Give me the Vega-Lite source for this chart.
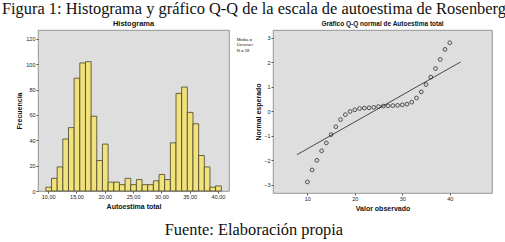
{
  "$schema": "https://vega.github.io/schema/vega-lite/v6.json",
  "padding": {"left": 1, "top": 0, "right": 0, "bottom": 0},
  "autosize": {"type": "pad"},
  "background": "white",
  "config": {
    "view": {"fill": "#dedede", "stroke": "#808080", "strokeWidth": 0.8},
    "axis": {"labelFont": "Liberation Sans", "labelFontSize": 5.5, "labelColor": "#222", "labelOverlap": false, "labelBound": false, "labelFlush": false, "titleFont": "Liberation Sans", "titleFontSize": 7, "titleFontWeight": "bold", "titleColor": "#111", "tickSize": 2, "tickColor": "#555", "domain": false, "grid": false, "labelPadding": 1, "titlePadding": 3}
  },
  "datasets": {
    "hist": [
      {"lo": 9.5, "hi": 10.5, "count": 3},
      {"lo": 10.5, "hi": 11.5, "count": 10},
      {"lo": 11.5, "hi": 12.5, "count": 19},
      {"lo": 12.5, "hi": 13.5, "count": 41},
      {"lo": 13.5, "hi": 14.5, "count": 50},
      {"lo": 14.5, "hi": 15.5, "count": 89},
      {"lo": 15.5, "hi": 16.5, "count": 101},
      {"lo": 16.5, "hi": 17.5, "count": 102},
      {"lo": 17.5, "hi": 18.5, "count": 59},
      {"lo": 18.5, "hi": 19.5, "count": 24},
      {"lo": 19.5, "hi": 20.5, "count": 37},
      {"lo": 20.5, "hi": 21.5, "count": 7},
      {"lo": 21.5, "hi": 22.5, "count": 7},
      {"lo": 22.5, "hi": 23.5, "count": 5},
      {"lo": 23.5, "hi": 24.5, "count": 10},
      {"lo": 24.5, "hi": 25.5, "count": 5},
      {"lo": 25.5, "hi": 26.5, "count": 9},
      {"lo": 26.5, "hi": 27.5, "count": 5},
      {"lo": 27.5, "hi": 28.5, "count": 5},
      {"lo": 28.5, "hi": 29.5, "count": 8},
      {"lo": 29.5, "hi": 30.5, "count": 13},
      {"lo": 30.5, "hi": 31.5, "count": 9},
      {"lo": 31.5, "hi": 32.5, "count": 38},
      {"lo": 32.5, "hi": 33.5, "count": 77},
      {"lo": 33.5, "hi": 34.5, "count": 82},
      {"lo": 34.5, "hi": 35.5, "count": 62},
      {"lo": 35.5, "hi": 36.5, "count": 53},
      {"lo": 36.5, "hi": 37.5, "count": 28},
      {"lo": 37.5, "hi": 38.5, "count": 19},
      {"lo": 38.5, "hi": 39.5, "count": 3},
      {"lo": 39.5, "hi": 40.5, "count": 4}
    ],
    "notes": [
      {"x": 43.3, "y": 118, "t": "Media ="},
      {"x": 43.3, "y": 114, "t": "Desviaci"},
      {"x": 43.3, "y": 110, "t": "N = 58"}
    ],
    "qq": [
      {"obs": 10, "exp": -2.88},
      {"obs": 11, "exp": -2.39},
      {"obs": 12, "exp": -2.0},
      {"obs": 13, "exp": -1.61},
      {"obs": 14, "exp": -1.29},
      {"obs": 15, "exp": -0.95},
      {"obs": 16, "exp": -0.63},
      {"obs": 17, "exp": -0.34},
      {"obs": 18, "exp": -0.14},
      {"obs": 19, "exp": -0.01},
      {"obs": 20, "exp": 0.06},
      {"obs": 21, "exp": 0.11},
      {"obs": 22, "exp": 0.13},
      {"obs": 23, "exp": 0.14},
      {"obs": 24, "exp": 0.16},
      {"obs": 25, "exp": 0.19},
      {"obs": 26, "exp": 0.21},
      {"obs": 27, "exp": 0.22},
      {"obs": 28, "exp": 0.23},
      {"obs": 29, "exp": 0.24},
      {"obs": 30, "exp": 0.26},
      {"obs": 31, "exp": 0.29},
      {"obs": 32, "exp": 0.37},
      {"obs": 33, "exp": 0.54},
      {"obs": 34, "exp": 0.79},
      {"obs": 35, "exp": 1.09},
      {"obs": 36, "exp": 1.39},
      {"obs": 37, "exp": 1.74},
      {"obs": 38, "exp": 2.11},
      {"obs": 39, "exp": 2.52},
      {"obs": 40, "exp": 2.79}
    ],
    "refline": [
      {"x1": 7.8, "y1": -1.77, "x2": 42.3, "y2": 2.01}
    ]
  },
  "title": {"text": "Figura 1: Histograma y gráfico Q-Q de la escala de autoestima de Rosenberg", "font": "Liberation Serif", "fontSize": 16.4, "fontWeight": "normal", "color": "#111", "anchor": "middle", "frame": "bounds", "offset": 2},
  "vconcat": [
    {
      "title": {"text": "Fuente: Elaboración propia", "orient": "bottom", "font": "Liberation Serif", "fontSize": 16.4, "fontWeight": "normal", "color": "#111", "anchor": "middle", "frame": "bounds", "offset": 10},
      "spacing": 44,
      "bounds": "flush",
      "hconcat": [
        {
          "width": 191,
          "height": 161,
          "title": {"text": "Histograma", "font": "Liberation Sans", "fontSize": 7.5, "fontWeight": "bold", "color": "#111", "offset": 3},
          "layer": [
            {
              "data": {"name": "hist"},
              "mark": {"type": "bar", "fill": "#f2e27c", "stroke": "#45422a", "strokeWidth": 0.8, "binSpacing": 0},
              "encoding": {
                "x": {"field": "lo", "type": "quantitative", "bin": {"binned": true}, "title": "Autoestima total",
                      "scale": {"domain": [8.2, 41.95], "nice": false, "zero": false},
                      "axis": {"values": [10, 15, 20, 25, 30, 35, 40], "labelOverlap": false, "labelSeparation": 0, "labelExpr": "replace(format(datum.value, '.2f'), '.', ',')"}},
                "x2": {"field": "hi"},
                "y": {"field": "count", "type": "quantitative", "title": "Frecuencia",
                      "scale": {"domain": [0, 127], "nice": false},
                      "axis": {"values": [0, 20, 40, 60, 80, 100, 120], "labelOverlap": false, "labelSeparation": 0}}
              }
            },
            {
              "data": {"name": "notes"},
              "mark": {"type": "text", "align": "left", "baseline": "alphabetic", "font": "Liberation Sans", "fontSize": 4.3, "color": "#222"},
              "encoding": {
                "x": {"field": "x", "type": "quantitative", "title": "Autoestima total", "axis": {"values": [10, 15, 20, 25, 30, 35, 40], "labelOverlap": false, "labelExpr": "replace(format(datum.value, '.2f'), '.', ',')"}},
                "y": {"field": "y", "type": "quantitative", "title": "Frecuencia", "axis": {"values": [0, 20, 40, 60, 80, 100, 120], "labelOverlap": false}},
                "text": {"field": "t"}
              }
            }
          ]
        },
        {
          "width": 219,
          "height": 163,
          "title": {"text": "Gráfico Q-Q normal de Autoestima total", "font": "Liberation Sans", "fontSize": 6.5, "fontWeight": "bold", "color": "#111", "offset": 3},
          "layer": [
            {
              "data": {"name": "refline"},
              "mark": {"type": "rule", "color": "#222", "strokeWidth": 0.8},
              "encoding": {
                "x": {"field": "x1", "type": "quantitative", "title": "Valor observado",
                      "scale": {"domain": [2.76, 48.9], "nice": false, "zero": false},
                      "axis": {"values": [10, 20, 30, 40], "labelOverlap": false}},
                "y": {"field": "y1", "type": "quantitative", "title": "Normal esperado",
                      "scale": {"domain": [-3.33, 3.31], "nice": false, "zero": false},
                      "axis": {"values": [-3, -2, -1, 0, 1, 2, 3], "labelOverlap": false, "labelSeparation": 0, "titlePadding": 2}},
                "x2": {"field": "x2"},
                "y2": {"field": "y2"}
              }
            },
            {
              "data": {"name": "qq"},
              "mark": {"type": "point", "shape": "circle", "filled": false, "stroke": "#111", "strokeWidth": 1, "size": 14},
              "encoding": {
                "x": {"field": "obs", "type": "quantitative", "title": "Valor observado", "axis": {"values": [10, 20, 30, 40], "labelOverlap": false}},
                "y": {"field": "exp", "type": "quantitative", "title": "Normal esperado", "axis": {"values": [-3, -2, -1, 0, 1, 2, 3], "labelOverlap": false, "titlePadding": 2}}
              }
            }
          ]
        }
      ]
    }
  ]
}
